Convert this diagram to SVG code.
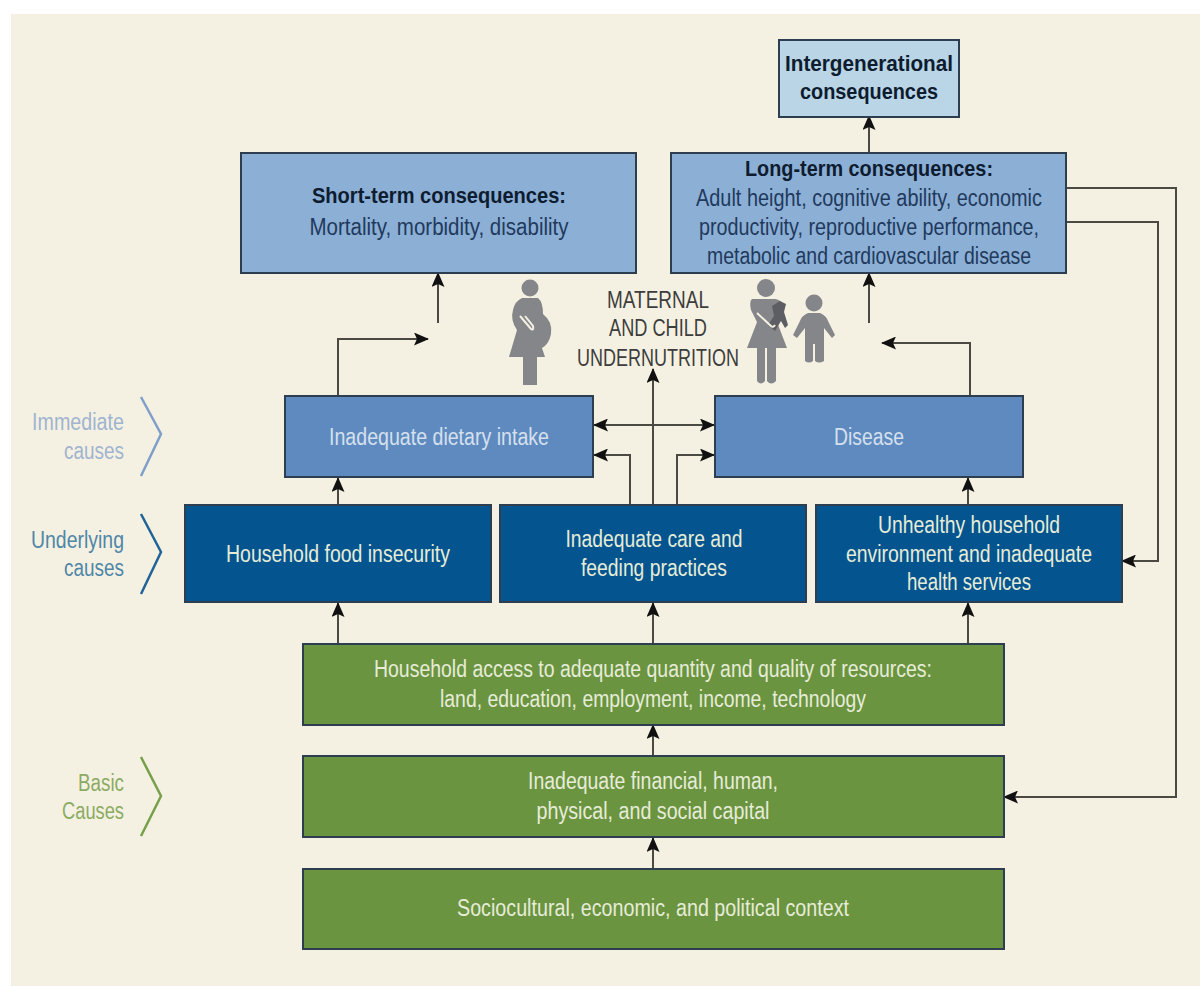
<svg xmlns="http://www.w3.org/2000/svg" width="1200" height="986" viewBox="0 0 1200 986">
<style>
text{font-family:"Liberation Sans",Arial,sans-serif;font-size:23px;text-anchor:middle}
.w{fill:#e6ecd8}.b{fill:#d5e0ee}.d{fill:#1f3a5c}.k{fill:#3d3d3d}.n{fill:#0e1c30;font-weight:bold;font-size:22px}
.lab{text-anchor:end}
.box{stroke:#2c3e50;stroke-width:2}
.c{fill:none;stroke:#4a4a42;stroke-width:2}
.f{fill:#85868a}
.h{fill:none;stroke:#f5f1e2;stroke-width:2}
</style>
<defs>
<marker id="a" viewBox="0 0 15 13" refX="14" refY="6.5" markerWidth="15" markerHeight="13" markerUnits="userSpaceOnUse" orient="auto-start-reverse"><path d="M0 0L15 6.500L0 13L3 6.500Z" fill="#111"/></marker>
</defs>
<rect x="11" y="14" width="1189" height="972" fill="#f5f1e2"/>
<g id="connectors">
<path class="c" d="M869 152V116" marker-end="url(#a)"/>
<path class="c" d="M438 323V273" marker-end="url(#a)"/>
<path class="c" d="M869 323V273" marker-end="url(#a)"/>
<path class="c" d="M338 395V339H428" marker-end="url(#a)"/>
<path class="c" d="M970 395V343H882" marker-end="url(#a)"/>
<path class="c" d="M653 504V369" marker-end="url(#a)"/>
<path class="c" d="M594 425H714" marker-start="url(#a)" marker-end="url(#a)"/>
<path class="c" d="M630 504V455H594" marker-end="url(#a)"/>
<path class="c" d="M677 504V455H714" marker-end="url(#a)"/>
<path class="c" d="M338 504V478" marker-end="url(#a)"/>
<path class="c" d="M968 504V478" marker-end="url(#a)"/>
<path class="c" d="M338 643V603" marker-end="url(#a)"/>
<path class="c" d="M653 643V603" marker-end="url(#a)"/>
<path class="c" d="M968 643V603" marker-end="url(#a)"/>
<path class="c" d="M653 755V725" marker-end="url(#a)"/>
<path class="c" d="M653 868V838" marker-end="url(#a)"/>
<path class="c" d="M1066 188H1176V797H1004" marker-end="url(#a)"/>
<path class="c" d="M1066 222H1158V561H1122" marker-end="url(#a)"/>
</g>
<g id="intergenerational"><rect class="box" x="779" y="40" width="180" height="77" fill="#b9d5e6"/>
<text class="n" x="869" y="71" textLength="168" lengthAdjust="spacingAndGlyphs">Intergenerational</text><text class="n" x="869" y="99" textLength="138" lengthAdjust="spacingAndGlyphs">consequences</text></g>
<g id="short-term"><rect class="box" x="241" y="153" width="395" height="120" fill="#8cafd6"/>
<text class="n" x="439" y="203" textLength="254" lengthAdjust="spacingAndGlyphs">Short-term consequences:</text><text class="d" x="439" y="235" textLength="259" lengthAdjust="spacingAndGlyphs">Mortality, morbidity, disability</text></g>
<g id="long-term"><rect class="box" x="671" y="153" width="395" height="120" fill="#8cafd6"/>
<text class="n" x="869" y="176" textLength="248" lengthAdjust="spacingAndGlyphs">Long-term consequences:</text>
<text class="d" x="869" y="206" textLength="346" lengthAdjust="spacingAndGlyphs">Adult height, cognitive ability, economic</text>
<text class="d" x="869" y="235" textLength="340" lengthAdjust="spacingAndGlyphs">productivity, reproductive performance,</text>
<text class="d" x="869" y="264" textLength="324" lengthAdjust="spacingAndGlyphs">metabolic and cardiovascular disease</text></g>
<g id="undernutrition"><text class="k" x="658" y="308" textLength="102" lengthAdjust="spacingAndGlyphs">MATERNAL</text><text class="k" x="658" y="336" textLength="98" lengthAdjust="spacingAndGlyphs">AND CHILD</text><text class="k" x="658" y="366" textLength="162" lengthAdjust="spacingAndGlyphs">UNDERNUTRITION</text></g>
<g id="figure-pregnant"><circle class="f" cx="530" cy="288" r="8.500"/>
<path class="f" d="M522 298H538Q543 302 543 314Q553 322 551 334Q549 344 542 348L545 357H537V385H523V357H509L517 330Q510 320 513 310Q515 301 522 298Z"/>
<path class="h" d="M520 316L531 329Q534 331 533 326L525 316"/></g>
<g id="figure-mother-child"><circle class="f" cx="766" cy="288" r="9"/>
<path class="f" d="M752 299H775Q782 300 783 306L777 322L787 348H747L757 322L751 310Q749 301 752 299Z"/>
<path class="f" d="M757 348H765V381Q761 386 757 381ZM767 348H776V381Q771 386 767 381Z"/>
<path d="M772 306L780 301L786 304L784 312L788 325L785 328L781 321L775 331L768 325L774 316Z" fill="#5d5e63"/>
<path class="h" d="M757 313L771 326Q773 328 775 325"/>
<circle class="f" cx="814" cy="303" r="8.500"/>
<path class="f" d="M808 313H820Q826 315 829 323L835 335L832 338L824 328V361Q819 364 815 361V344H813V361Q809 364 805 361V328L797 338L793 335L799 323Q802 315 808 313Z"/></g>
<g id="inadequate-dietary"><rect class="box" x="285" y="396" width="308" height="81" fill="#5f8abf"/><text class="b" x="439" y="445" textLength="220" lengthAdjust="spacingAndGlyphs">Inadequate dietary intake</text></g>
<g id="disease"><rect class="box" x="715" y="396" width="308" height="81" fill="#5f8abf"/><text class="b" x="869" y="445" textLength="70" lengthAdjust="spacingAndGlyphs">Disease</text></g>
<g id="food-insecurity"><rect class="box" x="185" y="505" width="306" height="97" fill="#04558f"/><text class="w" x="338" y="562" textLength="224" lengthAdjust="spacingAndGlyphs">Household food insecurity</text></g>
<g id="care-feeding"><rect class="box" x="500" y="505" width="306" height="97" fill="#04558f"/><text class="w" x="654" y="547" textLength="177" lengthAdjust="spacingAndGlyphs">Inadequate care and</text><text class="w" x="654" y="576" textLength="146" lengthAdjust="spacingAndGlyphs">feeding practices</text></g>
<g id="unhealthy-environment"><rect class="box" x="816" y="505" width="306" height="97" fill="#04558f"/><text class="w" x="969" y="533" textLength="182" lengthAdjust="spacingAndGlyphs">Unhealthy household</text><text class="w" x="969" y="562" textLength="246" lengthAdjust="spacingAndGlyphs">environment and inadequate</text><text class="w" x="969" y="590" textLength="124" lengthAdjust="spacingAndGlyphs">health services</text></g>
<g id="household-access"><rect class="box" x="303" y="644" width="701" height="81" fill="#6b9440"/><text class="w" x="653" y="677" textLength="558" lengthAdjust="spacingAndGlyphs">Household access to adequate quantity and quality of resources:</text><text class="w" x="653" y="707" textLength="426" lengthAdjust="spacingAndGlyphs">land, education, employment, income, technology</text></g>
<g id="capital"><rect class="box" x="303" y="756" width="701" height="81" fill="#6b9440"/><text class="w" x="653" y="789" textLength="250" lengthAdjust="spacingAndGlyphs">Inadequate financial, human,</text><text class="w" x="653" y="819" textLength="233" lengthAdjust="spacingAndGlyphs">physical, and social capital</text></g>
<g id="context"><rect class="box" x="303" y="869" width="701" height="80" fill="#6b9440"/><text class="w" x="653" y="916" textLength="392" lengthAdjust="spacingAndGlyphs">Sociocultural, economic, and political context</text></g>
<g id="label-immediate"><text class="lab" x="124" y="430" fill="#9fb4d0" textLength="92" lengthAdjust="spacingAndGlyphs">Immediate</text><text class="lab" x="124" y="459" fill="#9fb4d0" textLength="60" lengthAdjust="spacingAndGlyphs">causes</text><path d="M141 397L161 434L141 476" fill="none" stroke="#7f9fcb" stroke-width="2.500"/></g>
<g id="label-underlying"><text class="lab" x="124" y="548" fill="#4f87a8" textLength="93" lengthAdjust="spacingAndGlyphs">Underlying</text><text class="lab" x="124" y="576" fill="#4f87a8" textLength="60" lengthAdjust="spacingAndGlyphs">causes</text><path d="M141 514L161 552L141 594" fill="none" stroke="#1f6496" stroke-width="2.500"/></g>
<g id="label-basic"><text class="lab" x="124" y="791" fill="#8bab63" textLength="46" lengthAdjust="spacingAndGlyphs">Basic</text><text class="lab" x="124" y="819" fill="#8bab63" textLength="62" lengthAdjust="spacingAndGlyphs">Causes</text><path d="M141 757L161 796L141 836" fill="none" stroke="#76a04a" stroke-width="2.500"/></g>
</svg>
